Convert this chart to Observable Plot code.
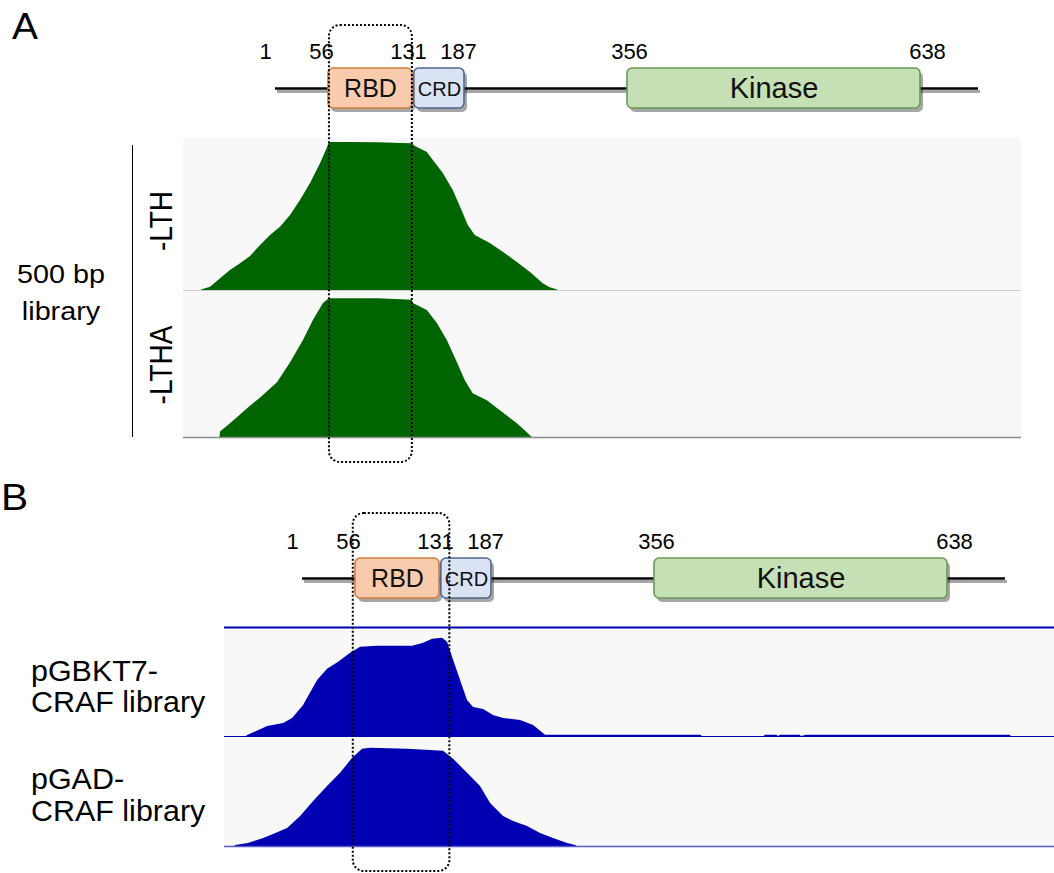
<!DOCTYPE html>
<html>
<head>
<meta charset="utf-8">
<script src="https://cdn.jsdelivr.net/npm/d3@7"></script>
<script src="https://cdn.jsdelivr.net/npm/@observablehq/plot@0.6"></script>
<style>
  html, body { margin: 0; padding: 0; background: #fff; }
  #fig { position: relative; width: 1054px; height: 873px; overflow: hidden; background: #fff;
         font-family: "Liberation Sans", Arial, Helvetica, sans-serif; color: #000; }
  .lbl { position: absolute; white-space: nowrap; line-height: 1; }
</style>
</head>
<body>
<div id="fig"></div>
<script>
// ---------------- data ----------------
const residueTicks = [1, 56, 131, 187, 356, 638];
const proteinLength = 648;
const domainNames = ["RBD", "CRD", "Kinase"];
const domainStarts = [56, 133, 356];
const domainEnds = [131, 187, 638];
const highlightStart = 56;
const highlightEnd = 131;

const panelLabels = ["A", "B"];
const libraryLabelA = ["500 bp", "library"];
const trackNamesA = ["-LTH", "-LTHA"];
const trackNamesB = [["pGBKT7-", "CRAF library"], ["pGAD-", "CRAF library"]];

// coverage (relative, % of track maximum) along the CRAF construct (residue units)
const posA_LTH = [-60, -59, -51.5, -42.5, -33.5, -24.4, -15.4, -6.3, 2.7, 11.7, 20.8, 29.8, 38.8, 47.9, 53.9, 56, 75, 100, 120, 131, 133.7, 144.3, 150, 159, 168, 175.9, 181.6, 187.9, 201.5, 213.2, 225.6, 237.6, 249.4, 255.7, 261.7, 263];
const covA_LTH = [0, 0.5, 2.2, 7.9, 13.5, 18, 23, 30.4, 37.2, 42.8, 50.7, 60.8, 72.1, 85.6, 95.7, 100, 100, 99.8, 99.4, 99.1, 97.3, 93.4, 87.8, 79, 67.6, 54, 43.9, 37.2, 31.8, 25.9, 19.1, 12.4, 4.5, 1.8, 0.5, 0];

const posA_LTHA = [-43, -42.5, -33.5, -18, -6, 9, 21, 32.5, 41.5, 50.6, 55, 56, 100, 131, 132, 144.5, 153.6, 162.6, 171.7, 178.9, 186, 198.8, 213, 226, 235, 239.4];
const covA_LTHA = [0, 4, 9.9, 20.7, 28.7, 39.5, 54, 69.9, 84.3, 96.6, 99.5, 100, 100, 99, 96.6, 91.5, 82.2, 69.9, 54, 41, 31.6, 26.5, 17.9, 9.9, 3.4, 0];

const posB_GBKT7 = [-27, -26, -10.5, 1.9, 8.9, 17.4, 28.3, 36, 44.6, 53.9, 61.7, 74.9, 102, 110.6, 117.6, 125.3, 129.2, 133.9, 139.3, 144.7, 149.4, 157.2, 164.9, 172.7, 185.9, 196, 205.3, 326, 327, 375, 376, 385, 386, 388, 403, 404, 408, 566, 567];
const covB_GBKT7 = [0, 1, 10.2, 13.3, 18.4, 31.6, 57.1, 68.4, 75.5, 84.7, 90.8, 91.8, 91.8, 94.9, 99, 100, 95.9, 77.6, 57.1, 36.7, 29.6, 27.6, 21.4, 18.4, 16.3, 11.2, 1.2, 1.2, 0, 0, 1.2, 1.2, 0, 1.2, 1.2, 0, 1.2, 1.2, 0];

const posB_GAD = [-36, -35.4, -25.3, -13.6, -5.9, 5, 15.1, 25.2, 36, 46.1, 55.5, 63.2, 69.4, 98.2, 126.1, 133.9, 144.7, 154.8, 162.6, 172.7, 180.5, 191.3, 201.4, 211.5, 222.4, 228.6, 230];
const covB_GAD = [0, 1, 3.1, 8.2, 12.2, 18.4, 30.6, 45.9, 61.2, 74.5, 89.8, 99, 100, 99, 96.9, 88.8, 74.5, 61.2, 43.9, 30.6, 25.5, 20.4, 13.3, 8.2, 3.1, 1, 0];

// ---------------- styles / layout ----------------
const W = 1054;
const FONT = "'Liberation Sans', Arial, Helvetica, sans-serif";
const domainStyle = {
  RBD:    {fill: "#f8cbad", stroke: "#d27d3e", fontSize: 25, sx: 1.0, dy: 0},
  CRD:    {fill: "#dae3f3", stroke: "#50668f", fontSize: 20, sx: 0.95, dy: 1.5},
  Kinase: {fill: "#c5e0b4", stroke: "#6b9a55", fontSize: 29, sx: 0.9, dy: 0}
};
const tickLabelNudge = [-10, -7, -4, -6, 2, 7];   // horizontal nudges (px) of the residue labels
const GREEN = "#006400";
const BLUE = "#0000b2";

const fig = document.getElementById("fig");
let uid = 0;

function place(el, top) {
  el.style.position = "absolute";
  el.style.left = "0px";
  el.style.top = top + "px";
  el.style.overflow = "visible";
  fig.appendChild(el);
}

function stretch(svg, label, sx) {
  svg.querySelectorAll(`g[aria-label="${label}"] text`).forEach(t => {
    let tr = t.getAttribute("transform");
    if (!tr) {
      const x = t.getAttribute("x") || 0, y = t.getAttribute("y") || 0;
      t.removeAttribute("x"); t.removeAttribute("y");
      tr = `translate(${x},${y})`;
    }
    t.setAttribute("transform", `${tr} scale(${sx},1)`);
  });
}

function blurShadows(svg) {
  const id = "shblur" + (uid++);
  const ns = "http://www.w3.org/2000/svg";
  const defs = document.createElementNS(ns, "defs");
  const f = document.createElementNS(ns, "filter");
  f.setAttribute("id", id);
  f.setAttribute("x", "-20%"); f.setAttribute("y", "-50%");
  f.setAttribute("width", "140%"); f.setAttribute("height", "200%");
  const g = document.createElementNS(ns, "feGaussianBlur");
  g.setAttribute("stdDeviation", "1.8");
  f.appendChild(g); defs.appendChild(f); svg.insertBefore(defs, svg.firstChild);
  svg.querySelectorAll('g[aria-label="shadow"]').forEach(el => el.setAttribute("filter", `url(#${id})`));
}

function drawDiagram(top, xRange) {
  const domains = domainNames.map((name, i) => ({name, start: domainStarts[i], end: domainEnds[i]}));
  const breaks = [...residueTicks, proteinLength];
  const svg = Plot.plot({
    width: W, height: 125, margin: 0,
    style: {fontFamily: FONT, background: "transparent", overflow: "visible"},
    x: {type: "linear", domain: breaks, range: xRange, axis: null},
    y: {domain: [-1, 1], range: [108, 68], axis: null},
    marks: [
      Plot.ruleY([0], {x1: 1, x2: proteinLength, stroke: "#000", strokeOpacity: 0.35, strokeWidth: 3, dx: 2, dy: 3, ariaLabel: "shadow"}),
      Plot.rect(domains, {x1: "start", x2: "end", y1: -1, y2: 1, fill: "#000", fillOpacity: 0.35, rx: 5, dx: 3, dy: 4, ariaLabel: "shadow"}),
      Plot.ruleY([0], {x1: 1, x2: proteinLength, stroke: "#000", strokeWidth: 2.4}),
      ...domains.map(d => Plot.rect([d], {x1: "start", x2: "end", y1: -1, y2: 1,
        fill: domainStyle[d.name].fill, stroke: domainStyle[d.name].stroke, strokeWidth: 1.6, rx: 5})),
      ...residueTicks.map((t, i) => Plot.text([t], {x: d => d, y: 1, text: d => String(d), lineAnchor: "bottom",
        dy: -10, dx: tickLabelNudge[i], fontSize: 22, fill: "#000", ariaLabel: "ticks"})),
      ...domains.map(d => Plot.text([d], {x: e => (e.start + e.end) / 2, y: 0, text: "name",
        lineAnchor: "middle", fontSize: domainStyle[d.name].fontSize, dy: domainStyle[d.name].dy,
        fill: "#111", ariaLabel: "name-" + d.name}))
    ]
  });
  stretch(svg, "ticks", 1.15);
  domains.forEach(d => stretch(svg, "name-" + d.name, domainStyle[d.name].sx));
  blurShadows(svg);
  place(svg, top);
}

function drawTrack(top, h, xDomain, xRange, pos, cov, yMax, o) {
  const data = pos.map((p, i) => ({pos: p, cov: cov[i]}));
  const svg = Plot.plot({
    width: W, height: h, margin: 0,
    style: {fontFamily: FONT, background: "transparent", overflow: "visible"},
    x: {domain: xDomain, range: xRange, axis: null},
    y: {domain: [0, yMax], range: [h, 0], axis: null},
    marks: [
      Plot.rect([xDomain], {x1: d => d[0], x2: d => d[1], fill: "#f8f8f8"}),
      Plot.areaY(data, {x: "pos", y: "cov", fill: o.color}),
      Plot.ruleY([0], {x1: xDomain[0], x2: xDomain[1], stroke: o.base, strokeWidth: o.baseWidth}),
      o.topLine ? Plot.ruleY([yMax], {x1: xDomain[0], x2: xDomain[1], stroke: o.topLine, strokeWidth: 2.2}) : null
    ]
  });
  place(svg, top);
}

function drawHighlight(top, h, xDomain, xRange) {
  const svg = Plot.plot({
    width: W, height: h, margin: 0, marginTop: 2, marginBottom: 2,
    style: {background: "transparent", overflow: "visible"},
    x: {domain: xDomain, range: xRange, axis: null},
    marks: [
      Plot.rect([{start: highlightStart, end: highlightEnd}], {x1: "start", x2: "end",
        fill: "none", stroke: "#000", strokeWidth: 2, strokeDasharray: "2,2", rx: 11})
    ]
  });
  place(svg, top);
}

function label(lines, left, baseline, size, sx, lineGap, anchor) {
  lines.forEach((txt, i) => {
    const d = document.createElement("div");
    d.className = "lbl";
    d.textContent = txt;
    d.style.fontSize = size + "px";
    d.style.top = (baseline + i * lineGap - 0.8465 * size) + "px";
    d.style.left = left + "px";
    if (anchor === "middle") {
      d.style.transformOrigin = "50% 50%";
      d.style.transform = `translateX(-50%) scaleX(${sx})`;
    } else {
      d.style.transformOrigin = "0 50%";
      d.style.transform = `scaleX(${sx})`;
    }
    fig.appendChild(d);
  });
}

function vlabel(txt, cx, cy, size, sy) {
  const d = document.createElement("div");
  d.className = "lbl";
  d.textContent = txt;
  d.style.fontSize = size + "px";
  d.style.left = cx + "px";
  d.style.top = cy + "px";
  d.style.transformOrigin = "50% 50%";
  d.style.transform = `translate(-50%,-50%) rotate(-90deg) scaleY(${sy})`;
  fig.appendChild(d);
}

// ---------------- panel A ----------------
const xDomA = [-76, 682], xRngA = [183, 1021];
drawDiagram(0, [275, 328, 412, 464, 627, 920, 978]);
drawTrack(290, 147, xDomA, xRngA, posA_LTHA, covA_LTHA, 106, {color: GREEN, base: "#8a8a8a", baseWidth: 1.5});
drawTrack(138, 152, xDomA, xRngA, posA_LTH, covA_LTH, 102.7, {color: GREEN, base: "#cdcdcd", baseWidth: 1.2});
drawHighlight(23, 441, xDomA, xRngA);

label([panelLabels[0]], 12, 39, 36, 1.08, 0, "start");
label(libraryLabelA, 61, 283, 25, 1.15, 37, "middle");
vlabel(trackNamesA[0], 162, 221, 28, 1.15);
vlabel(trackNamesA[1], 162, 364.5, 28, 1.15);
const bar = document.createElement("div");
Object.assign(bar.style, {position: "absolute", left: "132px", top: "145px", width: "1.4px", height: "292px", background: "#000"});
fig.appendChild(bar);

// ---------------- panel B ----------------
const xDomB = [-44, 600.5], xRngB = [224, 1054];
drawDiagram(490, [302, 355, 439, 491, 654, 947, 1005]);
drawTrack(736, 110, xDomB, xRngB, posB_GAD, covB_GAD, 112, {color: BLUE, base: "#5a5acc", baseWidth: 1.6});
drawTrack(627, 109, xDomB, xRngB, posB_GBKT7, covB_GBKT7, 111, {color: BLUE, base: BLUE, baseWidth: 1.2, topLine: BLUE});
drawHighlight(511, 362, xDomB, xRngB);

label([panelLabels[1]], 1, 510, 37, 1.1, 0, "start");
label(trackNamesB[0], 31, 682, 29, 1.05, 31, "start");
label(trackNamesB[1], 31, 790, 29, 1.05, 32, "start");
</script>
</body>
</html>
